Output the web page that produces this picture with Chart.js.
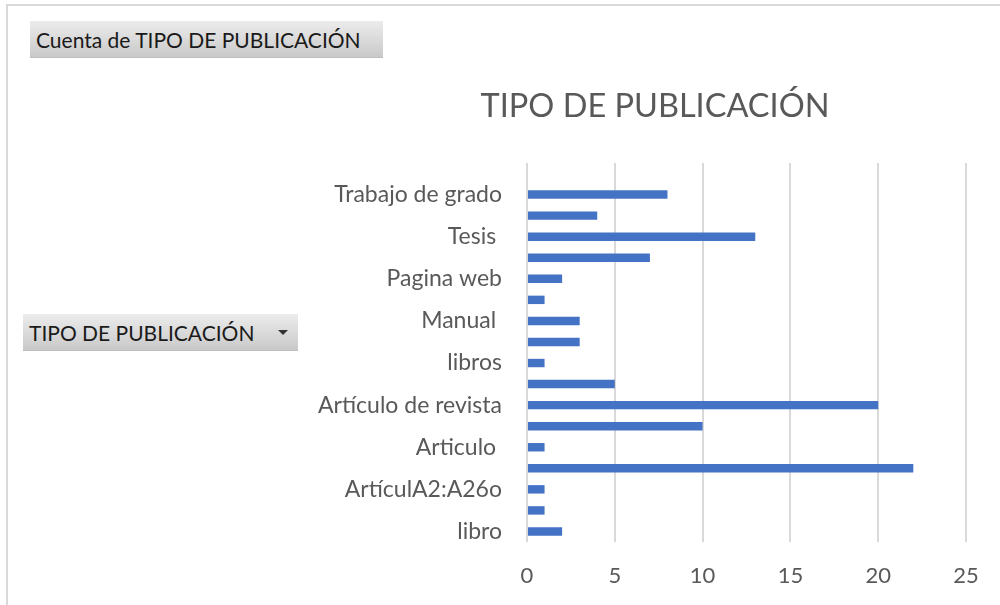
<!DOCTYPE html>
<html>
<head>
<meta charset="utf-8">
<script src="https://cdn.jsdelivr.net/npm/chart.js@4"></script>
<style>
  html, body { margin: 0; padding: 0; background: #fff; }
  #wrap { position: relative; width: 1000px; height: 605px; overflow: hidden; }
  #frame { position: absolute; left: 6px; top: 4px; width: 1100px; height: 700px;
           border-top: 2px solid #d9d9d9; border-left: 2px solid #d9d9d9; }
  canvas { position: absolute; left: 0; top: 0; }
  .btn { position: absolute; box-sizing: border-box; height: 37px; line-height: 37px;
         font-family: Lato, sans-serif; font-size: 21px; color: #1a1a1a;
         background: linear-gradient(#ececec, #c9c9c9); border-bottom: 1px solid #bdbdbd;
         padding-left: 6px; white-space: nowrap; }
  .arrow { position: absolute; right: 10px; top: 16px; width: 0; height: 0;
           border-left: 5px solid transparent; border-right: 5px solid transparent;
           border-top: 5px solid #333; }
</style>
</head>
<body>
<div id="wrap">
  <div id="frame"></div>
  <canvas id="chart" width="1000" height="605"></canvas>
  <div class="btn" style="left:30px; top:21px; width:353px;">Cuenta de TIPO DE PUBLICACIÓN</div>
  <div class="btn" style="left:23px; top:314px; width:275px;">TIPO DE PUBLICACIÓN<span class="arrow"></span></div>
</div>
<script>
  // categories from bottom to top, as in the pivot table
  const categorias = [
    'libro', 'Libro ', 'ArtículA2:A26o', 'Articulo de revista', 'Articulo ',
    'Artículo', 'Artículo de revista', 'Capítulo de libro', 'libros', 'Libro',
    'Manual ', 'Norma', 'Pagina web', 'Ponencia', 'Tesis ', 'Tesis de grado',
    'Trabajo de grado', '(en blanco)'
  ];
  const cuenta = [2, 1, 1, 22, 1, 10, 20, 5, 1, 3, 3, 1, 2, 7, 13, 4, 8, null];
  const ticksX = [0, 5, 10, 15, 20, 25];

  const gris = '#595959';

  // Excel centres the title a bit right of the layout box, nudge it over
  const moverTitulo = {
    id: 'moverTitulo',
    afterLayout(chart) {
      const t = chart.titleBlock;
      if (t) { t.left += 17; t.right += 17; }
    }
  };

  new Chart(document.getElementById('chart'), {
    type: 'bar',
    data: {
      labels: categorias,
      datasets: [{
        label: 'Total',
        data: cuenta,
        backgroundColor: '#4472C4',
        barPercentage: 0.4,
        categoryPercentage: 1
      }]
    },
    options: {
      indexAxis: 'y',
      responsive: false,
      animation: false,
      layout: { padding: { left: 310, right: 34, top: 0, bottom: 0 } },
      plugins: {
        legend: { display: false },
        tooltip: { enabled: false },
        title: {
          display: true,
          text: 'TIPO DE PUBLICACIÓN',
          color: gris,
          font: { family: 'Lato', size: 32.5, weight: 'normal' },
          padding: { top: 87, bottom: 37 }
        }
      },
      scales: {
        x: {
          min: 0,
          max: 25,
          afterBuildTicks: function(scale) {
            scale.ticks = ticksX.map(v => ({ value: v }));
          },
          afterFit: function(scale) { scale.height = 63; },
          grid: { color: '#d9d9d9', lineWidth: 2, drawTicks: false },
          border: { display: false },
          ticks: {
            color: gris,
            padding: 21,
            font: { family: 'Lato', size: 22 }
          }
        },
        y: {
          reverse: true,
          afterFit: function(scale) { scale.width = 217; },
          grid: { display: false, drawTicks: false },
          border: { display: false },
          ticks: {
            autoSkip: false,
            color: gris,
            padding: 25,
            font: { family: 'Lato', size: 23 },
            callback: function(value, index) {
              return index % 2 === 0 ? this.getLabelForValue(value) : '';
            }
          }
        }
      }
    },
    plugins: [moverTitulo]
  });
</script>
</body>
</html>
